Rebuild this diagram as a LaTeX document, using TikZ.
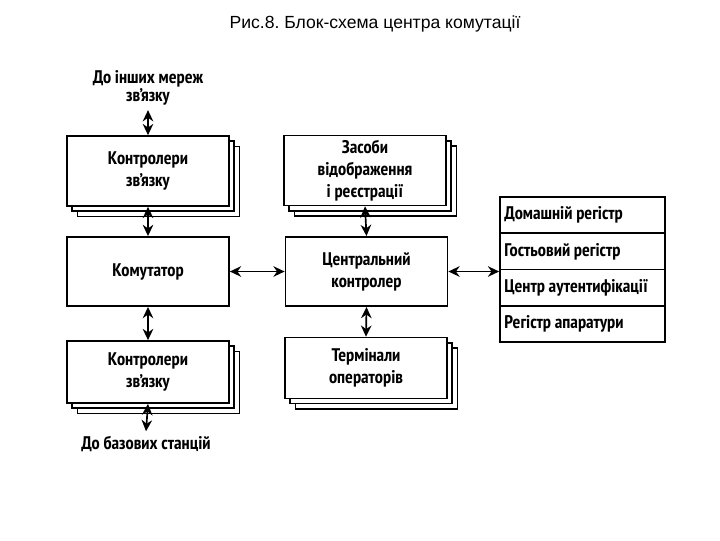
\documentclass[tikz,border=0pt]{standalone}
\usepackage{fontspec}
\setmainfont{Liberation Sans}
\newfontfamily\blokfont{PT Sans Narrow}[UprightFont=* Bold]
\usepackage{tikz}
\usetikzlibrary{arrows.meta, positioning, calc, shadows}
\frenchspacing

\tikzset{
  blok/.style={draw, line width=1.2pt, fill=white, minimum width=4.05cm, align=flush center,
    font=\blokfont\fontsize{13}{15.5}\selectfont},
  stos/.style={blok,
    copy shadow={shadow xshift=7.4pt, shadow yshift=-7.4pt, line width=1.2pt},
    copy shadow={shadow xshift=3.7pt, shadow yshift=-3.7pt, line width=1.2pt}},
  napys/.style={align=flush center, font=\blokfont\fontsize{13}{12.5}\selectfont},
  rej/.style={draw, line width=1.2pt, minimum width=4.125cm, minimum height=0.906cm,
    text width=3.9cm, align=flush left, inner xsep=2pt, font=\blokfont\fontsize{13}{15}\selectfont},
  zvyazok/.style={{Stealth[length=8pt,width=7.5pt]}-{Stealth[length=8pt,width=7.5pt]}, line width=1.2pt}
}

\begin{document}
\begin{tikzpicture}[x=0.025cm, y=-0.025cm]
\useasboundingbox (0,0) rectangle (720,540);
\node[font=\fontsize{12.5}{15}\selectfont] (title) at (375,24) {Рис.8. Блок-схема центра комутації};

% left column
\node[napys] (inshi) at (148,88) {До інших мереж\\зв’язку};
\node[stos, minimum height=1.75cm] (ctrlA) at (148,171) {Контролери\\зв’язку};
\node[blok, minimum height=1.73cm] (komut) at (148,271.5) {Комутатор};
\node[stos, minimum height=1.55cm] (ctrlB) at (148,372) {Контролери\\зв’язку};
\node[napys] (bazovi) at (146,444) {До базових станцій};

% middle column
\node[stos, minimum height=1.63cm] (zasoby) at (365,170.5) {Засоби\\відображення\\і реєстрації};
\node[blok, minimum height=1.73cm] (central) at (366.5,271.5) {Центральний\\контролер};
\node[stos, minimum height=1.52cm] (term) at (366,368) {Термінали\\операторів};

% registers
\foreach \t [count=\i] in {Домашній регістр, Гостьовий регістр, Центр аутентифікації, Регістр апаратури}
  \node[rej] (r\i) at (582.5,178.9+36.25*\i) {\t};

% arrows
\draw[zvyazok] (inshi.south) -- (ctrlA.north);
\draw[zvyazok] (ctrlA.south) -- (komut.north);
\draw[zvyazok] (komut.south) -- (ctrlB.north);
\draw[zvyazok] (ctrlB.south) -- (bazovi.north);
\draw[zvyazok] (zasoby.south) -- (central.north);
\draw[zvyazok] (central.south) -- (term.north);
\draw[zvyazok] (komut.east) -- (central.west);
\draw[zvyazok] (central.east) -- (central.east -| r1.west);
\end{tikzpicture}
\end{document}
